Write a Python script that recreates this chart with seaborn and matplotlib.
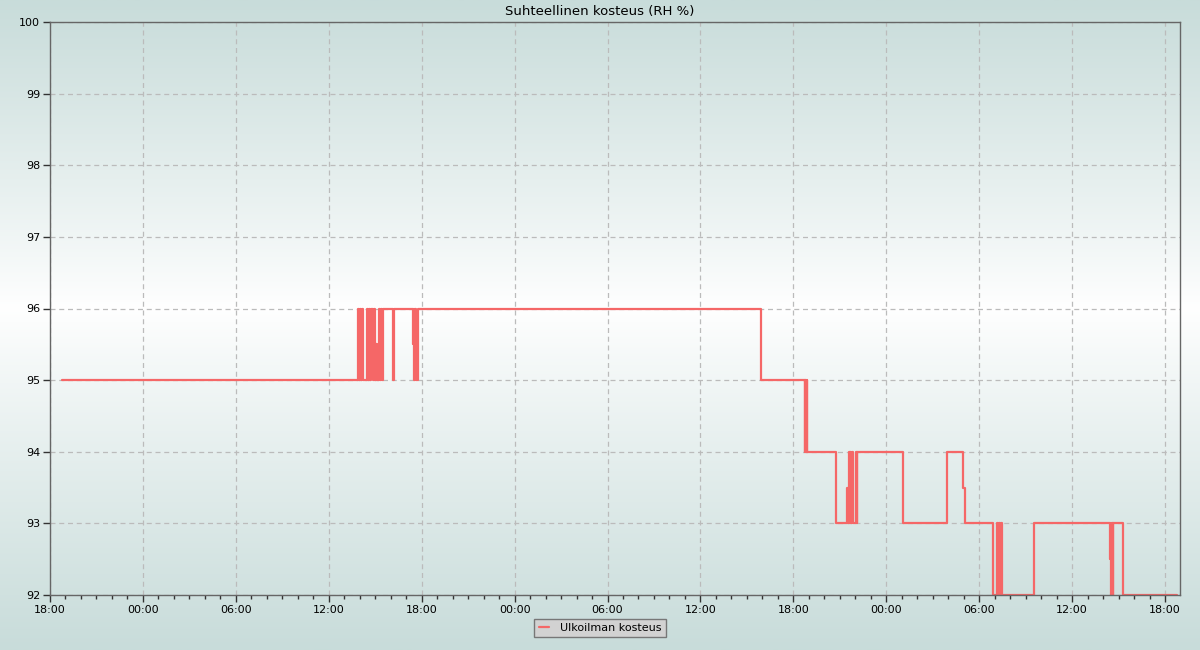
import numpy as np
import pandas as pd
import matplotlib
matplotlib.use("Agg")
import matplotlib.pyplot as plt
import matplotlib.dates as mdates
import seaborn as sns

# Relative humidity readings (step changes), 3 days
times = [
    "2023-10-01 18:46",
    "2023-10-02 13:53", "2023-10-02 13:57", "2023-10-02 14:01", "2023-10-02 14:05",
    "2023-10-02 14:09", "2023-10-02 14:14", "2023-10-02 14:28", "2023-10-02 14:32",
    "2023-10-02 14:36", "2023-10-02 14:40", "2023-10-02 14:44", "2023-10-02 14:51",
    "2023-10-02 14:55", "2023-10-02 14:59", "2023-10-02 15:03", "2023-10-02 15:07",
    "2023-10-02 15:15", "2023-10-02 15:19", "2023-10-02 15:22", "2023-10-02 15:26",
    "2023-10-02 15:30", "2023-10-02 16:07", "2023-10-02 16:11", "2023-10-02 17:28",
    "2023-10-02 17:30", "2023-10-02 17:32", "2023-10-02 17:34", "2023-10-02 17:38",
    "2023-10-02 17:45",
    "2023-10-03 15:55", "2023-10-03 18:45", "2023-10-03 18:47", "2023-10-03 18:49",
    "2023-10-03 18:51", "2023-10-03 18:53", "2023-10-03 20:44", "2023-10-03 21:28",
    "2023-10-03 21:31", "2023-10-03 21:34", "2023-10-03 21:38", "2023-10-03 21:40",
    "2023-10-03 21:43", "2023-10-03 21:49", "2023-10-03 21:53", "2023-10-03 22:03",
    "2023-10-03 22:05", "2023-10-03 22:08",
    "2023-10-04 01:05", "2023-10-04 03:54", "2023-10-04 04:59", "2023-10-04 05:05",
    "2023-10-04 06:52", "2023-10-04 07:09", "2023-10-04 07:13", "2023-10-04 07:17",
    "2023-10-04 07:21", "2023-10-04 07:23", "2023-10-04 07:27", "2023-10-04 09:34",
    "2023-10-04 14:27", "2023-10-04 14:30", "2023-10-04 14:32", "2023-10-04 14:35",
    "2023-10-04 14:37", "2023-10-04 14:40", "2023-10-04 15:19", "2023-10-04 18:46",
]
humidity = [
    95,
    96, 95, 96, 95,
    96, 95, 96, 95,
    96, 95, 96, 95,
    96, 95, 95.5, 95,
    96, 95, 96, 95,
    96, 95, 96, 95.5,
    96, 95, 96, 95,
    96,
    95, 94, 95, 94,
    95, 94, 93, 93.5,
    93, 94, 93, 94,
    93, 94, 93, 94,
    93, 94,
    93, 94, 93.5, 93,
    92, 93, 92, 93,
    92, 93, 92, 93,
    92.5, 93, 92, 93,
    92, 93, 92, 92,
]

x_start = "2023-10-01 18:00"
x_end = "2023-10-04 18:58"
y_ticks = [92, 93, 94, 95, 96, 97, 98, 99, 100]

title = "Suhteellinen kosteus (RH %)"
series_name = "Ulkoilman kosteus"
line_color = "#f56767"

df = pd.DataFrame({"time": pd.to_datetime(times), "rh": humidity})

sns.set_theme(style="white")
plt.rcParams["font.family"] = ["DejaVu Sans"]
plt.rcParams["text.color"] = "black"
plt.rcParams["xtick.color"] = "black"
plt.rcParams["ytick.color"] = "black"

fig = plt.figure(figsize=(12, 6.5), dpi=100)

# background gradient: teal at edges, white around the middle
bg = fig.add_axes([0, 0, 1, 1], zorder=0)
yy = np.linspace(0, 1, 400)
center = 1 - 308 / 650
t = np.where(yy > center, (yy - center) / (1 - center), (center - yy) / center)
t = np.clip(t, 0, 1) ** 0.9
top_rgb = np.array([200, 220, 218]) / 255.0
img = (1 - t)[:, None] * np.ones(3) + t[:, None] * top_rgb
bg.imshow(img[:, None, :], aspect="auto", origin="lower", extent=[0, 1, 0, 1])
bg.set_axis_off()

ax = fig.add_axes([50 / 1200, 1 - 595 / 650, 1130 / 1200, 573 / 650], zorder=1)
ax.patch.set_alpha(0)

sns.lineplot(data=df, x="time", y="rh", ax=ax, color=line_color, linewidth=1.6,
             drawstyle="steps-post", estimator=None, sort=False, label=series_name,
             legend=False)

ax.set_xlim(pd.Timestamp(x_start), pd.Timestamp(x_end))
ax.set_ylim(92, 100)
ax.set_yticks(y_ticks)
ax.xaxis.set_major_locator(mdates.HourLocator(byhour=[0, 6, 12, 18]))
ax.xaxis.set_major_formatter(mdates.DateFormatter("%H:%M"))
ax.xaxis.set_minor_locator(mdates.HourLocator())

ax.grid(True, which="major", linestyle=(0, (4, 3)), color="#bbbbbb", linewidth=0.9)
ax.set_xlabel("")
ax.set_ylabel("")
# title is centred on the figure, not the axes
fig.text(0.5, 1 - 11 / 650, title, ha="center", va="center", fontsize=9.5,
         color="black")

for s in ax.spines.values():
    s.set_color("#666666")
    s.set_linewidth(1.0)

ax.tick_params(axis="both", which="major", direction="out", length=5, width=1,
               color="#333333", labelsize=8, pad=2, left=True, bottom=True,
               labelcolor="black")
ax.tick_params(axis="x", which="minor", direction="out", length=3, width=1,
               color="#333333", bottom=True)

handles, labels = ax.get_legend_handles_labels()
leg = fig.legend(handles, labels, loc="center", bbox_to_anchor=(0.5, 1 - 628 / 650),
                 frameon=True, fancybox=False, fontsize=8, handlelength=0.9,
                 borderpad=0.4, handletextpad=1.0)
leg.get_frame().set_facecolor("#d2d2d2")
leg.get_frame().set_edgecolor("#777777")
leg.get_frame().set_alpha(1)
for txt in leg.get_texts():
    txt.set_color("black")

fig.savefig("out.png", dpi=100)
